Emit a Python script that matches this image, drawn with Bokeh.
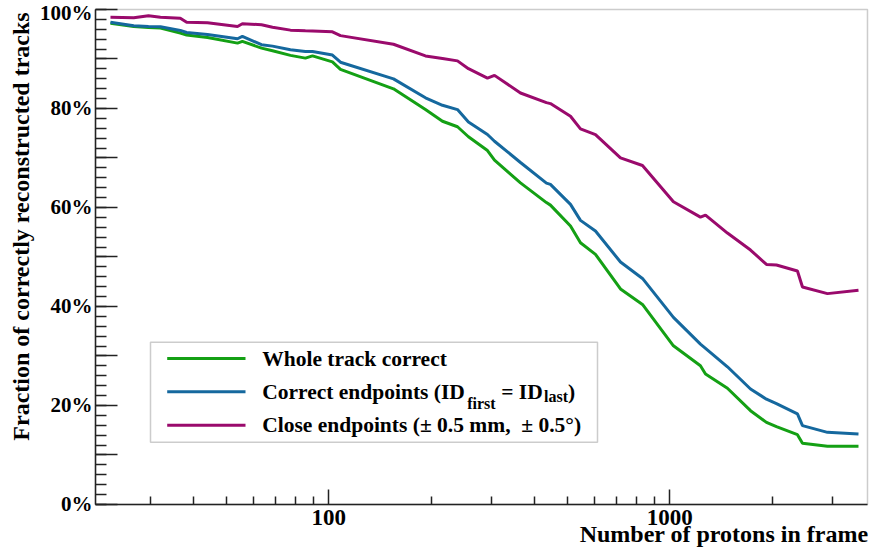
import math
from bokeh.plotting import figure
from bokeh.models import (Range1d, FixedTicker, Label, BoxAnnotation, Arrow)
from bokeh.embed import file_html
from bokeh.resources import INLINE

# ---- data ----
protons = [22.9, 26.8, 29.6, 32.1, 36.7, 38.3, 44.1, 54.0, 55.8, 63.5, 68.4, 77.2,
           85.4, 89.6, 102.5, 108.2, 154.8, 192.1, 215.5, 238.5, 256.8, 292.0,
           306.2, 364.9, 434.8, 446.7, 511.5, 547.2, 605.5, 716.9, 831.6, 1025,
           1230, 1273, 1476, 1725, 1921, 2055, 2368, 2450, 2900, 3576]

whole_track = [0.9724, 0.9657, 0.9637, 0.9627, 0.9522, 0.9486, 0.9435, 0.9321, 0.9355,
               0.9220, 0.9167, 0.9073, 0.9018, 0.9062, 0.8942, 0.8790, 0.8397, 0.7978,
               0.7742, 0.7631, 0.7429, 0.7151, 0.6956, 0.6498, 0.6099, 0.6048, 0.5625,
               0.5288, 0.5054, 0.4355, 0.4042, 0.3206, 0.2802, 0.2635, 0.2349, 0.1895,
               0.1659, 0.1573, 0.1411, 0.1236, 0.1175, 0.1175]

correct_endpoints = [0.9744, 0.9671, 0.9657, 0.9651, 0.9577, 0.9536, 0.9496, 0.9409,
                     0.9456, 0.9288, 0.9260, 0.9188, 0.9153, 0.9153, 0.9079, 0.8935,
                     0.8599, 0.8216, 0.8065, 0.7978, 0.7728, 0.7474, 0.7339, 0.6909,
                     0.6492, 0.6466, 0.6063, 0.5740, 0.5524, 0.4899, 0.4567, 0.3780,
                     0.3240, 0.3155, 0.2782, 0.2333, 0.2127, 0.2036, 0.1829, 0.1593,
                     0.1458, 0.1425]

close_endpoints = [0.9845, 0.9833, 0.9873, 0.9845, 0.9825, 0.9744, 0.9732, 0.9657,
                   0.9712, 0.9692, 0.9643, 0.9583, 0.9571, 0.9567, 0.9550, 0.9472,
                   0.9298, 0.9062, 0.9012, 0.8962, 0.8804, 0.8615, 0.8669, 0.8313,
                   0.8119, 0.8099, 0.7843, 0.7587, 0.7474, 0.7002, 0.6849, 0.6115,
                   0.5806, 0.5847, 0.5484, 0.5141, 0.4849, 0.4839, 0.4718, 0.4395,
                   0.4260, 0.4329]

x_major = [100, 1000]
x_minor = [30, 40, 50, 60, 70, 80, 90, 200, 300, 400, 500, 600, 700, 800, 900, 2000, 3000]
y_major = [0.0, 0.1, 0.2, 0.3, 0.4, 0.5, 0.6, 0.7, 0.8, 0.9, 1.0]
y_labels = {0.0: "0%", 0.1: "", 0.2: "20%", 0.3: "", 0.4: "40%", 0.5: "",
            0.6: "60%", 0.7: "", 0.8: "80%", 0.9: "", 1.0: "100%"}
y_minor = [i / 50 for i in range(51)]

# plotted axis extent (the drawn frame)
x_lo, x_hi = 20.7, 3800
y_lo, y_hi = 0.0, 1.0

colors = ["#14a014", "#15689e", "#9a0a6c"]
FONT = "Liberation Serif"

W, H = 869, 547
# the whole canvas is the Bokeh frame; axes are pinned at the data edges
p = figure(width=W, height=H, x_axis_type="log", title=None,
           x_range=Range1d(10.898, 3852), y_range=Range1d(-0.08687, 1.01818),
           output_backend="svg", toolbar_location=None,
           min_border_left=0, min_border_right=0, min_border_top=0, min_border_bottom=0)
p.background_fill_color = "white"
p.border_fill_color = "white"
p.outline_line_color = None
p.grid.visible = False

# drawn frame around the data area
p.add_layout(BoxAnnotation(left=x_lo, right=x_hi, bottom=y_lo, top=y_hi,
                           fill_alpha=0, line_color="#555555", line_width=1.5,
                           level="underlay"))

for ys, c in zip([whole_track, correct_endpoints, close_endpoints], colors):
    p.line(protons, ys, line_color=c, line_width=3)

# x axis
xa = p.xaxis[0]
xa.fixed_location = y_lo
xa.bounds = (x_lo, x_hi)
xa.ticker = FixedTicker(ticks=x_major, minor_ticks=x_minor)
xa.major_label_overrides = {100: "100", 1000: "1000"}
xa.major_tick_in = 15
xa.major_tick_out = 0
xa.minor_tick_in = 8
xa.minor_tick_out = 0
xa.major_label_standoff = 6
xa.major_label_text_font = FONT
xa.major_label_text_font_style = "bold"
xa.major_label_text_font_size = "23px"
xa.major_label_text_color = "black"
xa.axis_line_color = "#222222"
xa.axis_line_width = 1.5
xa.major_tick_line_color = "#222222"
xa.minor_tick_line_color = "#222222"
xa.major_tick_line_width = 1.5
xa.minor_tick_line_width = 1.5

# y axis
ya = p.yaxis[0]
ya.fixed_location = x_lo
ya.bounds = (y_lo, y_hi)
ya.ticker = FixedTicker(ticks=y_major, minor_ticks=y_minor)
ya.major_label_overrides = y_labels
ya.major_tick_in = 22
ya.major_tick_out = 0
ya.minor_tick_in = 11
ya.minor_tick_out = 0
ya.major_label_standoff = 3
ya.major_label_text_font = FONT
ya.major_label_text_font_style = "bold"
ya.major_label_text_font_size = "21px"
ya.major_label_text_color = "black"
ya.axis_line_color = "#222222"
ya.axis_line_width = 1.5
ya.major_tick_line_color = "#222222"
ya.minor_tick_line_color = "#222222"
ya.major_tick_line_width = 1.5
ya.minor_tick_line_width = 1.5

def txt(x, y, s, size="21.5px", align="left", angle=0.0):
    p.add_layout(Label(x=x, y=y, x_units="screen", y_units="screen", text=s,
                       text_align=align, text_baseline="middle", text_font=FONT,
                       text_font_style="bold", text_font_size=size, text_color="black",
                       angle=angle, level="overlay"))

# axis titles (screen coordinates from the bottom-left corner of the canvas)
txt(868, 14, "Number of protons in frame", "24px", "right")
txt(20, 321, "Fraction of correctly reconstructed tracks", "24px", "center", math.pi / 2)

# legend (drawn manually)
p.add_layout(BoxAnnotation(left=150, right=597, bottom=105.3, top=205.3,
                           left_units="screen", right_units="screen",
                           bottom_units="screen", top_units="screen",
                           fill_color="white", fill_alpha=1.0,
                           line_color="#555555", line_width=1.5, level="overlay"))
row_y = [189.0, 155.7, 122.3]
for ly, c in zip(row_y, colors):
    p.add_layout(Arrow(x_start=166.7, y_start=ly, x_end=245, y_end=ly,
                       start_units="screen", end_units="screen", end=None,
                       line_color=c, line_width=3, level="overlay"))

txt(261.7, row_y[0], "Whole track correct")
txt(261.7, row_y[1], "Correct endpoints (ID")
txt(466.7, row_y[1] - 11.3, "first", "16px")
txt(500.7, row_y[1], "= ID")
txt(543.5, row_y[1] - 4.7, "last", "16px")
txt(567.5, row_y[1], ")")
txt(261.7, row_y[2], "Close endpoints (\u00b1 0.5 mm,\u00a0 \u00b1 0.5\u00b0)")

open("out.html", "w").write(file_html(p, INLINE))
